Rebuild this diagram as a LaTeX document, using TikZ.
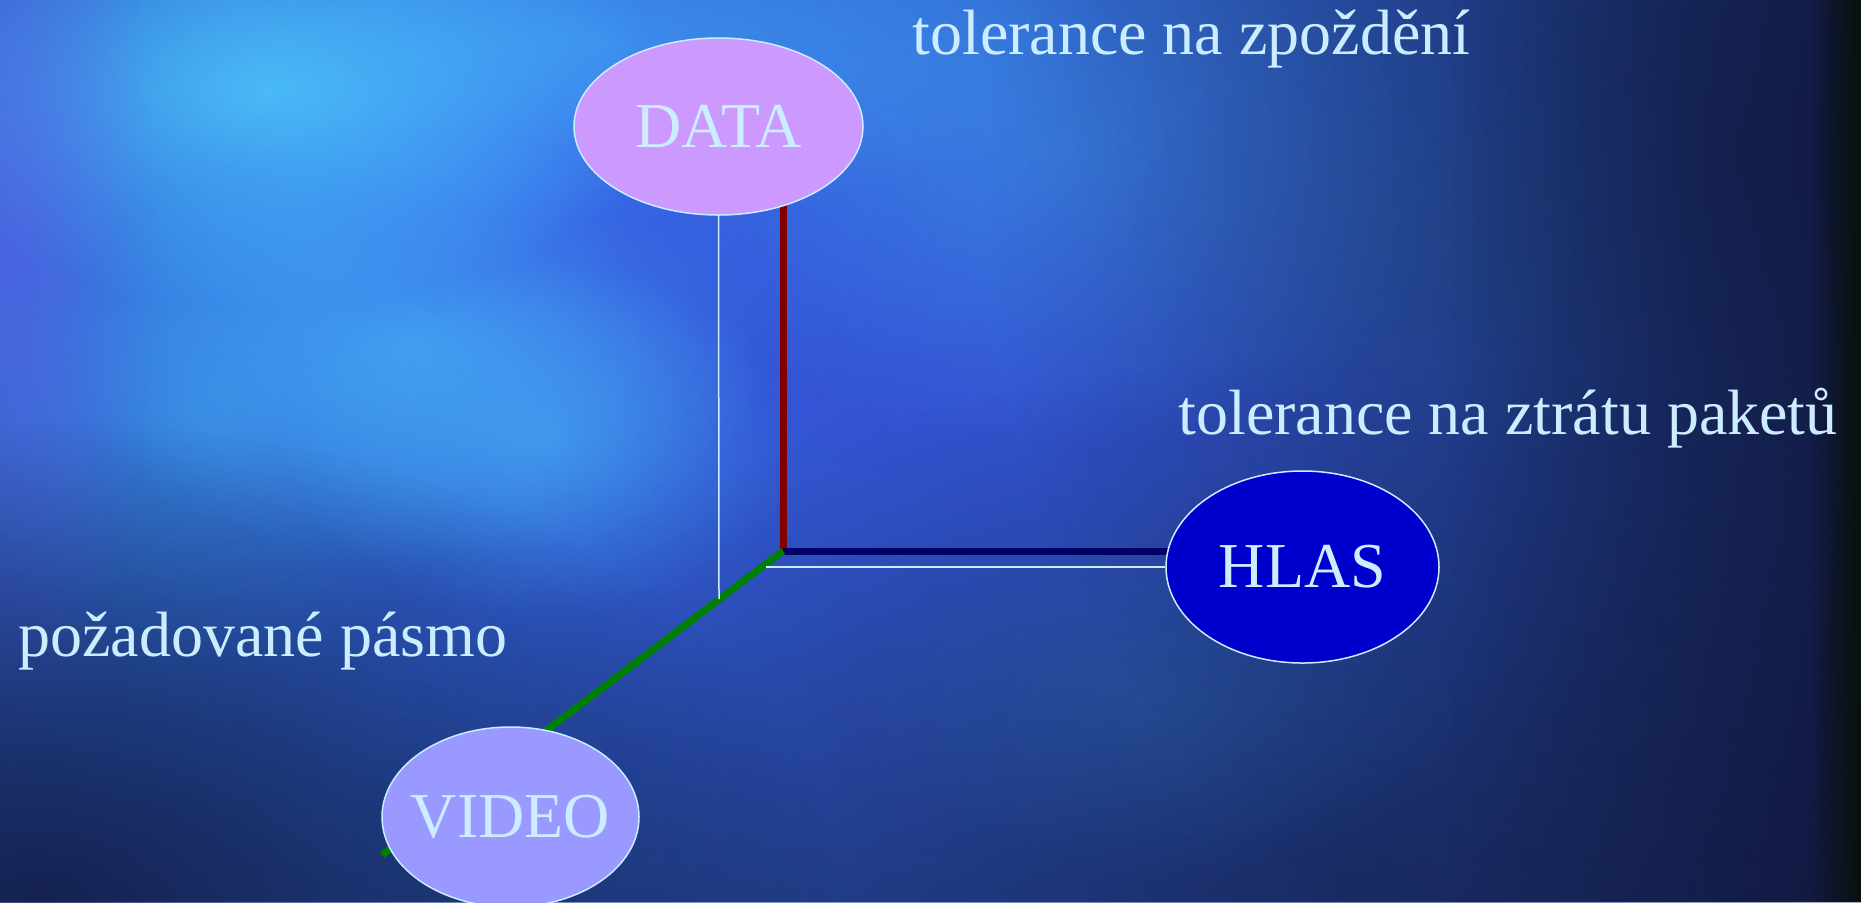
\documentclass[tikz,border=0pt]{standalone}
\usepackage{fontspec}
\setmainfont{Liberation Serif}
\usetikzlibrary{shapes.geometric,fadings}
\definecolor{txt}{HTML}{CCECFF}
\definecolor{datafill}{HTML}{CC99FF}
\definecolor{videofill}{HTML}{9999FF}
\definecolor{hlasfill}{HTML}{0000CC}
\definecolor{redaxis}{HTML}{800000}
\definecolor{navyaxis}{HTML}{000066}
\definecolor{greenaxis}{HTML}{008000}
\definecolor{bgbase}{HTML}{1C2558}
\definecolor{bgblue}{HTML}{3480FA}
\definecolor{bgmid}{HTML}{3843D4}
\definecolor{bgcyan}{HTML}{55D8FF}
\definecolor{bgcyan2}{HTML}{4CC4FF}
\definecolor{bgpurple}{HTML}{6A5CF0}
\definecolor{bgdark}{HTML}{0E1234}
\definecolor{bgteal}{HTML}{2A6A9A}
\definecolor{bgedge}{HTML}{0A100C}
\tikzfading[name=softblob, inner color=transparent!0, outer color=transparent!100]
\tikzfading[name=fadetoright, left color=transparent!100, right color=transparent!0]
\pgfdeclarelayer{bg}
\pgfdeclarelayer{lines}
\pgfsetlayers{bg,lines,main}
\begin{document}
\begin{tikzpicture}[x=0.5pt,y=-0.5pt,
  blob/.style={path fading=softblob},
  oval/.style={ellipse, draw=txt, line width=0.75pt, inner sep=0pt, text=txt,
    font=\fontsize{32}{38}\selectfont},
  lbl/.style={anchor=base west, inner sep=0pt, text=txt,
    font=\fontsize{32}{38}\selectfont},
  axisline/.style={line width=3.5pt},
  guideline/.style={draw=txt, line width=0.75pt}]
\useasboundingbox (0,0) rectangle (1861,902);

% nodes
\node[oval, fill=datafill, minimum width=144.5pt, minimum height=88.5pt] (DATA) at (718.5,126.5) {DATA};
\node[oval, fill=hlasfill, minimum width=136.5pt, minimum height=96pt] (HLAS) at (1302.5,567) {HLAS};
\node[oval, fill=videofill, inner xsep=-5pt, minimum width=128.5pt, minimum height=90pt] (VIDEO) at (510.5,817) {VIDEO};

\node[lbl] (t1) at (912,54) {tolerance na zpoždění};
\node[lbl] (t2) at (1178,434) {tolerance na ztrátu paketů};
\node[lbl] (t3) at (18,656) {požadované pásmo};

\coordinate (O) at (783,551);
\coordinate (G) at (382,855);
\coordinate (W1) at (719,599);
\coordinate (W2) at (766,567);

\begin{pgfonlayer}{lines}
  \draw[axisline, redaxis] (O) -- (O |- DATA.center);
  \draw[axisline, navyaxis] (O) -- (O -| HLAS.center);
  \draw[axisline, greenaxis] (O) -- (G);
  \draw[guideline] (DATA.south) -- (W1);
  \draw[guideline] (W2) -- (HLAS.west);
\end{pgfonlayer}

\begin{pgfonlayer}{bg}
  \begin{scope}
    \clip (0,0) rectangle (1861,902);
    \fill[bgbase] (0,0) rectangle (1861,902);
    \fill[bgblue, blob] (520,180) ellipse [x radius=1050pt, y radius=620pt];
    \fill[bgmid, blob, fill opacity=0.6] (920,380) ellipse [x radius=420pt, y radius=300pt];
    \fill[bgmid, blob, fill opacity=0.4] (620,260) ellipse [x radius=160pt, y radius=120pt];
    \fill[bgcyan, blob, fill opacity=0.7] (270,90) ellipse [x radius=200pt, y radius=110pt];
    \fill[bgcyan2, blob, fill opacity=0.4] (600,40) ellipse [x radius=260pt, y radius=90pt];
    \fill[bgcyan2, blob, fill opacity=0.55] (415,345) ellipse [x radius=180pt, y radius=110pt];
    \fill[bgcyan2, blob, fill opacity=0.45] (540,440) ellipse [x radius=130pt, y radius=90pt];
    \fill[bgcyan2, blob, fill opacity=0.3] (200,420) ellipse [x radius=140pt, y radius=130pt];
    \fill[bgcyan2, blob, fill opacity=0.3] (1050,150) ellipse [x radius=220pt, y radius=150pt];
    \fill[bgpurple, blob, fill opacity=0.45] (15,250) ellipse [x radius=70pt, y radius=260pt];
    \fill[bgdark, blob, fill opacity=0.7] (40,900) ellipse [x radius=400pt, y radius=240pt];
    \fill[bgdark, blob, fill opacity=0.45] (1350,880) ellipse [x radius=500pt, y radius=260pt];
    \fill[bgteal, blob, fill opacity=0.3] (1150,700) ellipse [x radius=160pt, y radius=90pt];
    \fill[bgteal, blob, fill opacity=0.25] (1450,250) ellipse [x radius=160pt, y radius=120pt];
    \fill[bgdark, blob, fill opacity=0.55] (1750,150) ellipse [x radius=380pt, y radius=450pt];
    \fill[bgdark, path fading=fadetoright, fill opacity=0.7] (1450,0) rectangle (1861,902);
    \fill[bgedge, path fading=fadetoright] (1810,0) rectangle (1861,902);
  \end{scope}
\end{pgfonlayer}
\end{tikzpicture}
\end{document}
